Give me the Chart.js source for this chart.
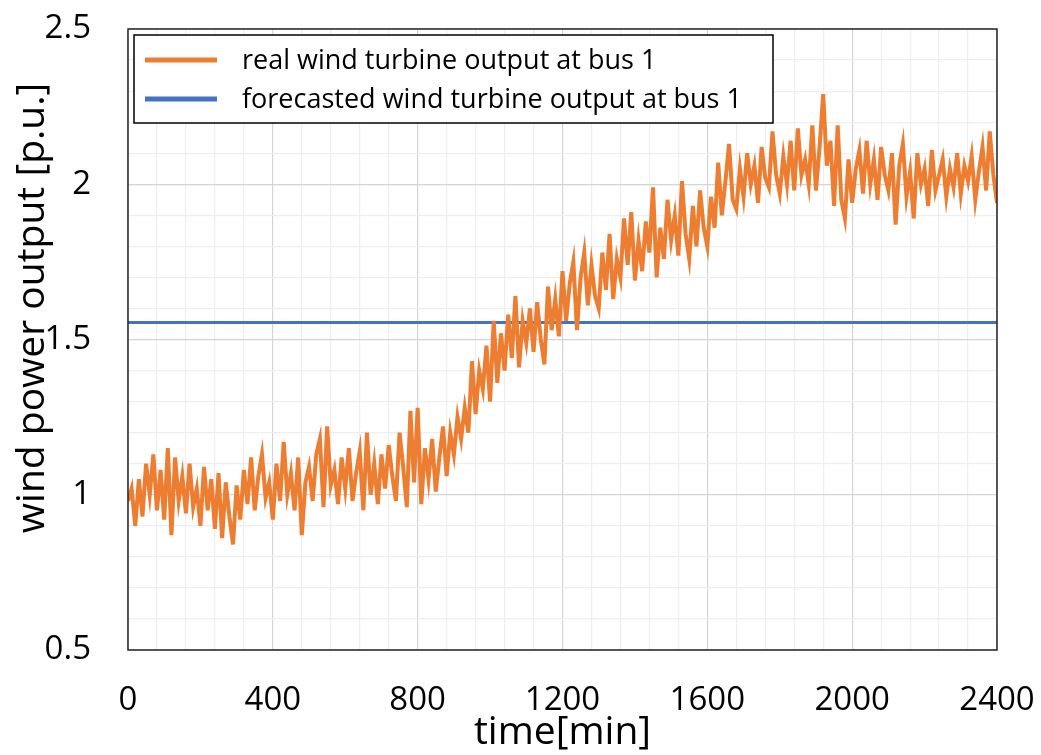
<!DOCTYPE html>
<html lang="en">
<head>
    <meta charset="UTF-8">
    <title>Wind power output</title>
    <script src="https://cdn.jsdelivr.net/npm/chart.js"></script>
    <style>
        html, body { margin: 0; padding: 0; background: #fff; }
        canvas { display: block; }
    </style>
</head>
<body>
    <canvas id="windChart" width="1041" height="755"></canvas>

    <script>
        // samples every 10 minutes, 0 .. 2400
        var sampleStep = 10;
        var realOutput = [
            0.98, 1.02, 0.90, 1.05, 0.93, 1.10, 1.00, 1.13, 0.95, 1.08,
            0.92, 1.15, 0.87, 1.12, 0.98, 1.06, 0.94, 1.10, 0.96, 1.02,
            0.90, 1.09, 0.95, 1.05, 0.89, 1.07, 0.86, 1.04, 0.93, 0.84,
            1.03, 0.92, 1.08, 0.97, 1.12, 0.95, 1.06, 1.13, 0.99, 1.04,
            0.92, 1.10, 0.98, 1.17, 1.00, 1.07, 0.95, 1.12, 0.87, 1.04,
            1.09, 0.98, 1.13, 1.18, 0.96, 1.22, 1.03, 1.08, 0.97, 1.12,
            1.02, 1.15, 0.98, 1.07, 1.14, 0.95, 1.20, 1.00, 1.10, 0.97,
            1.13, 1.02, 1.16, 1.06, 0.98, 1.20, 1.09, 0.96, 1.27, 1.04,
            1.28, 0.97, 1.15, 1.05, 1.18, 1.01, 1.12, 1.22, 1.06, 1.20,
            1.13, 1.25, 1.18, 1.28, 1.20, 1.43, 1.26, 1.40, 1.34, 1.48,
            1.30, 1.56, 1.36, 1.52, 1.40, 1.58, 1.44, 1.64, 1.41, 1.56,
            1.49, 1.60, 1.46, 1.62, 1.50, 1.42, 1.67, 1.53, 1.63, 1.51,
            1.72, 1.56, 1.68, 1.75, 1.53, 1.70, 1.78, 1.61, 1.74, 1.64,
            1.60, 1.78, 1.66, 1.84, 1.63, 1.76, 1.70, 1.89, 1.74, 1.91,
            1.69, 1.82, 1.72, 1.88, 1.78, 1.99, 1.70, 1.86, 1.76, 1.95,
            1.82, 1.90, 1.77, 2.01, 1.84, 1.76, 1.93, 1.80, 1.98, 1.86,
            1.80, 1.96, 1.86, 2.07, 1.90, 2.01, 2.13, 1.95, 1.92, 2.05,
            1.96, 2.10, 2.00, 2.06, 1.94, 2.12, 2.02, 1.99, 2.17, 2.03,
            1.97, 2.09, 2.00, 2.14, 1.98, 2.18, 2.03, 2.08, 2.00, 2.19,
            1.98, 2.12, 2.29, 2.06, 2.14, 1.93, 2.19, 1.95, 1.89, 2.08,
            1.94, 2.05, 2.11, 1.97, 2.14, 2.00, 2.08, 1.95, 2.12, 2.03,
            1.98, 2.10, 1.87, 2.06, 2.13, 1.96, 2.04, 1.89, 2.10, 2.00,
            2.05, 1.93, 2.11, 1.98, 2.03, 2.08, 1.96, 2.05, 1.99, 2.10,
            1.97, 2.06, 2.01, 2.09, 1.95, 2.04, 2.12, 1.98, 2.17, 2.03,
            1.94
        ];
        var forecastTimes = [0, 2400];
        var forecastOutput = [1.555, 1.555];

        var xTicks = [0, 400, 800, 1200, 1600, 2000, 2400];
        var yTicks = [0.5, 1, 1.5, 2, 2.5];

        var seriesLabels = ['real wind turbine output at bus 1', 'forecasted wind turbine output at bus 1'];
        var xTitle = 'time[min]';
        var yTitle = 'wind power output [p.u.]';

        var orange = '#ED7D31';
        var blue = '#4472C4';
        var fontFamily = "'Open Sans', 'Noto Sans', sans-serif";

        var realPoints = realOutput.map((v, i) => ({ x: i * sampleStep, y: v }));
        var forecastPoints = forecastOutput.map((v, i) => ({ x: forecastTimes[i], y: v }));

        function isMajorX(v) { return xTicks.indexOf(Math.round(v)) >= 0; }
        function isMajorY(v) { return yTicks.indexOf(Math.round(v * 10) / 10) >= 0; }

        // frame around the plot, box legend and both axis titles
        var decorations = {
            id: 'decorations',
            afterDraw(chart) {
                var ctx = chart.ctx;
                var area = chart.chartArea;
                ctx.save();

                ctx.strokeStyle = '#262626';
                ctx.lineWidth = 1.5;
                ctx.strokeRect(area.left, area.top, area.right - area.left, area.bottom - area.top);

                // legend
                var lx = area.left + 6, ly = area.top + 6, lw = 639, lh = 88;
                ctx.fillStyle = '#fff';
                ctx.fillRect(lx, ly, lw, lh);
                ctx.strokeStyle = '#000';
                ctx.lineWidth = 1.5;
                ctx.strokeRect(lx, ly, lw, lh);
                ctx.font = '27px ' + fontFamily;
                ctx.textBaseline = 'middle';
                ctx.textAlign = 'left';
                chart.data.datasets.forEach((ds, i) => {
                    var y = ly + 25 + i * 39;
                    ctx.strokeStyle = ds.borderColor;
                    ctx.lineWidth = 5;
                    ctx.beginPath();
                    ctx.moveTo(lx + 11, y);
                    ctx.lineTo(lx + 83, y);
                    ctx.stroke();
                    ctx.fillStyle = '#000';
                    ctx.fillText(ds.label, lx + 108, y + 1);
                });

                // axis titles
                ctx.fillStyle = '#000';
                ctx.font = '39px ' + fontFamily;
                ctx.textAlign = 'center';
                ctx.textBaseline = 'middle';
                ctx.fillText(xTitle, (area.left + area.right) / 2, 733);

                ctx.translate(33, 308);
                ctx.rotate(-Math.PI / 2);
                ctx.fillText(yTitle, 0, 0);
                ctx.restore();
            }
        };

        new Chart(document.getElementById('windChart'), {
            type: 'line',
            data: {
                datasets: [
                    {
                        label: seriesLabels[0],
                        data: realPoints,
                        borderColor: orange,
                        borderWidth: 4,
                        pointRadius: 0,
                        tension: 0
                    },
                    {
                        label: seriesLabels[1],
                        data: forecastPoints,
                        borderColor: blue,
                        borderWidth: 3,
                        pointRadius: 0
                    }
                ]
            },
            options: {
                responsive: false,
                animation: false,
                layout: { padding: { top: 29, right: 44, left: 0, bottom: 0 } },
                plugins: {
                    legend: { display: false },
                    tooltip: { enabled: false }
                },
                scales: {
                    x: {
                        type: 'linear',
                        min: 0,
                        max: 2400,
                        afterFit: (scale) => {
                            scale.height = 105;
                            scale.paddingLeft = 0;
                            scale.paddingRight = 0;
                        },
                        border: { display: false },
                        grid: {
                            drawTicks: false,
                            color: (c) => isMajorX(c.tick.value) ? '#d4d4d4' : '#eeeeee',
                            lineWidth: 1.2
                        },
                        ticks: {
                            stepSize: 80,
                            autoSkip: false,
                            maxRotation: 0,
                            padding: 31,
                            color: '#000',
                            font: { family: fontFamily, size: 33 },
                            callback: (v) => isMajorX(v) ? String(Math.round(v)) : ''
                        }
                    },
                    y: {
                        min: 0.5,
                        max: 2.5,
                        afterFit: (scale) => {
                            scale.width = 128;
                            scale.paddingTop = 0;
                            scale.paddingBottom = 0;
                        },
                        border: { display: false },
                        grid: {
                            drawTicks: false,
                            color: (c) => isMajorY(c.tick.value) ? '#d4d4d4' : '#eeeeee',
                            lineWidth: 1.2
                        },
                        ticks: {
                            stepSize: 0.1,
                            autoSkip: false,
                            padding: 37,
                            color: '#000',
                            font: { family: fontFamily, size: 33 },
                            callback: (v) => isMajorY(v) ? String(Math.round(v * 10) / 10) : ''
                        }
                    }
                }
            },
            plugins: [decorations]
        });
    </script>
</body>
</html>
